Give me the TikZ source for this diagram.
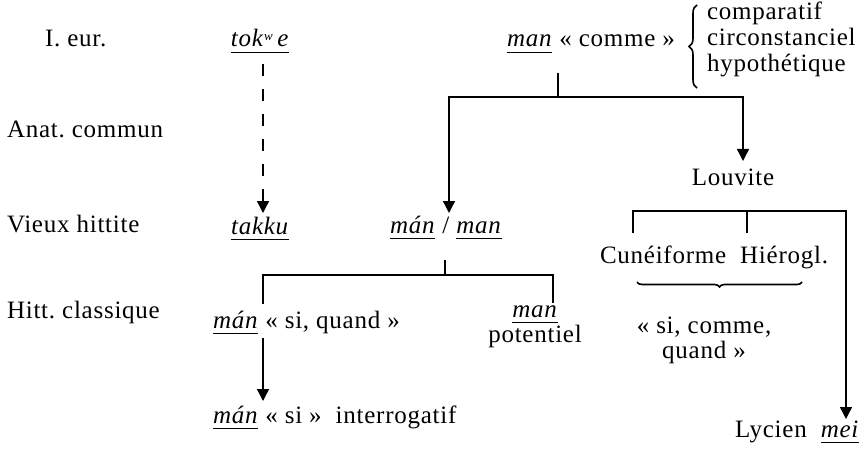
\documentclass[tikz,border=0pt]{standalone}
\usepackage{fontspec}
\setmainfont{Liberation Serif}[LetterSpace=3]
\usetikzlibrary{arrows.meta,decorations.pathreplacing}
\newcommand\undl[1]{\setbox0\hbox{#1}\rlap{\rule[-6pt]{\wd0}{1.3pt}}\box0}
\newcommand\fsz{\fontsize{25}{28}\selectfont}
\tikzset{
  txt/.style={anchor=base west, inner sep=0pt, outer sep=0pt, font=\fsz},
  ctxt/.style={anchor=base, inner sep=0pt, outer sep=0pt, font=\fsz},
  ln/.style={line width=1.4pt},
  arr/.style={ln, -{Triangle[width=12pt,length=12pt]}},
  dsh/.style={ln, dash pattern=on 12pt off 13pt},
}
\begin{document}
\begin{tikzpicture}[x=1pt,y=-1pt]
\useasboundingbox (0,0) rectangle (866,449);
% level labels
\node[txt] (l1) at (45,47) {I.~eur.};
\node[txt] (l2) at (7,138) {Anat.~commun};
\node[txt] (l3) at (7,232) {Vieux hittite};
\node[txt] (l4) at (7,318) {Hitt.~classique};
% tokwe branch
\node[ctxt] (tok) at (260,47) {\undl{\textit{tok}\raisebox{0.55ex}{\fontsize{13}{13}\selectfont\textit{w}}\,\textit{e}}};
\node[ctxt] (takku) at (260,234) {\undl{\textit{takku}}};
\coordinate (tokb) at (263,64);
\coordinate (takt) at (263,213);
\draw[dsh] (tokb) -- (263,200);
\draw[arr] (263,199) -- (takt);
% man comme
\node[txt] (man) at (507,47) {\undl{\textit{man}}~«~comme~»};
\draw[line width=1.6pt, decorate, decoration={brace, amplitude=8pt}] (697,88) -- (697,5);
\node[txt] (c1) at (707,20) {comparatif};
\node[txt] (c2) at (707,46) {circonstanciel};
\node[txt] (c3) at (707,72) {hypothétique};
\coordinate (mstem) at (558,73);
\coordinate (mj) at (558,97);
\coordinate (mjl) at (449,97);
\coordinate (mjr) at (743,97);
\draw[ln] (mstem) -- (mj);
\draw[arr] (mj) -- (mjl) -- (449,213);
\draw[arr] (mj) -- (mjr) -- (743,161);
% Vieux hittite man/man
\node[txt] (vman) at (390,233) {\undl{\textit{mán}}~/~\undl{\textit{man}}};
% Louvite
\node[ctxt] (louv) at (733,185) {Louvite};
\coordinate (lj) at (747,211);
\draw[ln] (633,233) -- (633,211) -- (lj) -- (747,233);
\draw[arr] (lj) -- (846,211) -- (846,419);
\node[txt] (cun) at (600,263) {Cunéiforme~ Hiérogl.};
\draw[line width=1.6pt, decorate, decoration={brace, amplitude=5pt, mirror}] (637,282) -- (802,282);
\node[ctxt] (sicq1) at (704,333) {«~si, comme,};
\node[ctxt] (sicq2) at (704,358) {quand~»};
\node[txt] (lyc) at (735,437) {Lycien~ \undl{\textit{mei}}};
% classical hittite
\coordinate (vj) at (445,275);
\draw[ln] (445,260) -- (vj);
\draw[ln] (vj) -- (263,275) -- (263,304);
\draw[ln] (vj) -- (553,275) -- (553,303);
\node[txt] (msq) at (213,328) {\undl{\textit{mán}}~«~si, quand~»};
\node[ctxt] (mpot) at (535,317) {\undl{\textit{man}}};
\node[ctxt] (pot) at (535,342) {potentiel};
\draw[arr] (263,338) -- (263,401);
\node[txt] (msi) at (213,423) {\undl{\textit{mán}}~«~si~»~ interrogatif};
\end{tikzpicture}
\end{document}
